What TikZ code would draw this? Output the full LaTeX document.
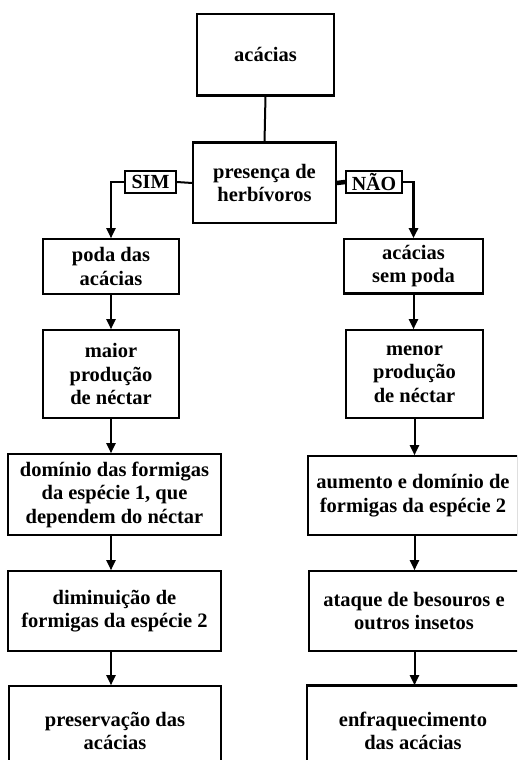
\documentclass[tikz,border=0pt]{standalone}
\usepackage{fontspec}
\setmainfont{Liberation Serif}
\usetikzlibrary{arrows.meta}
\tikzset{
  caja/.style={draw, line width=1.6pt, align=center, inner sep=0pt,
    font=\bfseries\fontsize{20.5}{23.5}\selectfont},
  etiqueta/.style={draw, line width=1.6pt, inner sep=0pt, minimum width=#1,
    minimum height=22pt, font=\bfseries\fontsize{20}{22}\selectfont},
  linea/.style={line width=2pt},
  flecha/.style={line width=2pt, -{Triangle[length=10pt,width=9pt]}},
  borde/.style={line width=3.2pt},
}
\begin{document}
\begin{tikzpicture}[x=1pt, y=-1pt]
    \clip (0,0) rectangle (517,760);

    % Cajas de arriba
    \node[caja, minimum width=137pt, minimum height=81pt] (acacias) at (265.5,54.5) {acácias};
    \node[caja, minimum width=143pt, minimum height=80pt] (presenca) at (264.5,183) {presença de\\herbívoros};
    \node[etiqueta=51pt] (sim) at (150.5,182) {SIM};
    \node[etiqueta=56pt] (nao) at (374,182) {NÃO};

    % Columna izquierda (SIM)
    \node[caja, minimum width=136pt, minimum height=55pt] (poda) at (111,266.5) {poda das\\acácias};
    \node[caja, minimum width=136pt, minimum height=88pt] (maior) at (111,374) {maior\\produção\\de néctar};
    \node[caja, minimum width=213pt, minimum height=81pt] (dominio) at (114.5,494.5) {domínio das formigas\\da espécie 1, que\\dependem do néctar};
    \node[caja, minimum width=213pt, minimum height=80pt] (diminuicao) at (114.5,611) {diminuição de\\formigas da espécie 2};
    \node[caja, minimum width=212pt, minimum height=90pt] (preservacao) at (115,731) {preservação das\\acácias};

    % Columna derecha (NÃO)
    \node[caja, minimum width=139pt, minimum height=54pt] (sempoda) at (413.5,266) {acácias\\sem poda};
    \node[caja, minimum width=137pt, minimum height=88pt] (menor) at (414.5,374) {menor\\produção\\de néctar};
    \node[caja, minimum width=210pt, minimum height=79pt] (aumento) at (413,495.5) {aumento e domínio de\\formigas da espécie 2};
    \node[caja, minimum width=210pt, minimum height=80pt] (ataque) at (414,611) {ataque de besouros e\\outros insetos};
    \node[caja, minimum width=212pt, minimum height=90pt] (enfraq) at (413,731) {enfraquecimento\\das acácias};

    % Bordes gruesos
    \draw[borde] (acacias.south west) -- (acacias.south east);
    \draw[borde] (presenca.north west) -- (presenca.north east);
    \draw[borde] (sempoda.south west) -- (sempoda.south east);
    \draw[borde] (enfraq.north west) -- (enfraq.north east);

    % Conexiones
    \draw[linea] (acacias.south) -- (presenca.north);
    \draw[linea] (presenca.west) -- (sim.east);
    \draw[flecha] (sim.west) -| (poda.north);
    \draw[line width=4.5pt] (presenca.east) -- (nao.west);
    \draw[flecha, line width=2.6pt] (nao.east) -| (sempoda.north);

    \draw[flecha] (poda.south) -- (poda.south |- maior.north);
    \draw[flecha] (maior.south) -- (maior.south |- dominio.north);
    \draw[flecha] (maior.south |- dominio.south) -- (maior.south |- diminuicao.north);
    \draw[flecha] (maior.south |- diminuicao.south) -- (maior.south |- preservacao.north);

    \draw[flecha] (sempoda.south) -- (sempoda.south |- menor.north);
    \draw[flecha] (menor.south) -- (menor.south |- aumento.north);
    \draw[flecha] (menor.south |- aumento.south) -- (menor.south |- ataque.north);
    \draw[flecha] (menor.south |- ataque.south) -- (menor.south |- enfraq.north);
\end{tikzpicture}
\end{document}
